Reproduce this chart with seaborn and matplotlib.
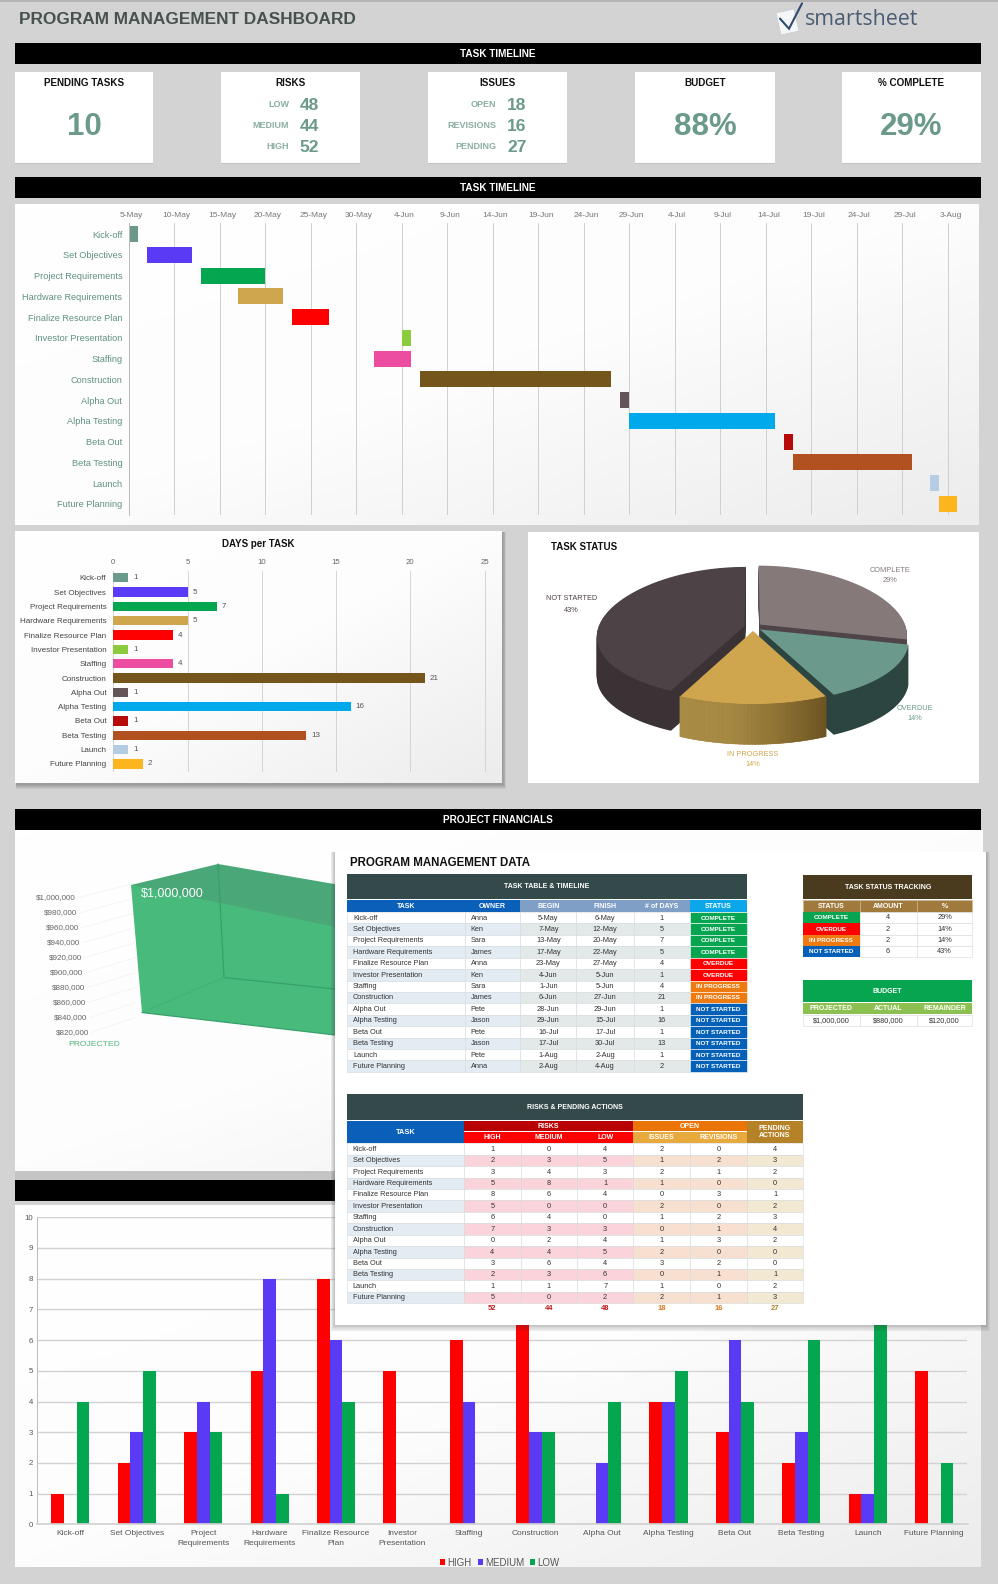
import numpy as np
import pandas as pd
import seaborn as sns
import matplotlib
matplotlib.use("Agg")
import matplotlib.pyplot as plt
import matplotlib.dates as mdates
from matplotlib.colors import LinearSegmentedColormap, to_hex
from matplotlib.patches import Rectangle, Polygon
from matplotlib.transforms import ScaledTranslation

# ---------- data ----------
tasks = ["Kick-off", "Set Objectives", "Project Requirements", "Hardware Requirements",
         "Finalize Resource Plan", "Investor Presentation", "Staffing", "Construction",
         "Alpha Out", "Alpha Testing", "Beta Out", "Beta Testing", "Launch", "Future Planning"]
tasks_wrapped = ["Kick-off", "Set Objectives", "Project\nRequirements", "Hardware\nRequirements",
                 "Finalize Resource\nPlan", "Investor\nPresentation", "Staffing", "Construction",
                 "Alpha Out", "Alpha Testing", "Beta Out", "Beta Testing", "Launch", "Future Planning"]
owners = ["Anna", "Ken", "Sara", "James", "Anna", "Ken", "Sara", "James", "Pete", "Jason", "Pete", "Jason", "Pete", "Anna"]
begin = ["5-May", "7-May", "13-May", "17-May", "23-May", "4-Jun", "1-Jun", "6-Jun", "28-Jun", "29-Jun", "16-Jul", "17-Jul", "1-Aug", "2-Aug"]
finish = ["6-May", "12-May", "20-May", "22-May", "27-May", "5-Jun", "5-Jun", "27-Jun", "29-Jun", "15-Jul", "17-Jul", "30-Jul", "2-Aug", "4-Aug"]
days = [1, 5, 7, 5, 4, 1, 4, 21, 1, 16, 1, 13, 1, 2]
status = ["COMPLETE"] * 4 + ["OVERDUE"] * 2 + ["IN PROGRESS"] * 2 + ["NOT STARTED"] * 6
task_colors = ["#6b9a8c", "#5a3af5", "#05a650", "#cfa64d", "#fe0000", "#8bcb3c", "#ec4da0",
               "#74561c", "#635558", "#00a8ec", "#b80a0a", "#b0511f", "#b5cde3", "#fcb51c"]
risk_high = [1, 2, 3, 5, 8, 5, 6, 7, 0, 4, 3, 2, 1, 5]
risk_medium = [0, 3, 4, 8, 6, 0, 4, 3, 2, 4, 6, 3, 1, 0]
risk_low = [4, 5, 3, 1, 4, 0, 0, 3, 4, 5, 4, 6, 7, 2]
open_issues = [2, 1, 2, 1, 0, 2, 1, 0, 1, 2, 3, 0, 1, 2]
open_revisions = [0, 2, 1, 0, 3, 0, 2, 1, 3, 0, 2, 1, 0, 1]
pending_actions = [4, 3, 2, 0, 1, 2, 3, 4, 2, 0, 0, 1, 2, 3]
pending_tasks = 10
status_names = ["COMPLETE", "OVERDUE", "IN PROGRESS", "NOT STARTED"]
status_amounts = [4, 2, 2, 6]
status_pcts = ["29%", "14%", "14%", "43%"]
budget_projected = 1000000
budget_actual = 880000
budget_remainder = 120000
fin_ticks = [1000000, 980000, 960000, 940000, 920000, 900000, 880000, 860000, 840000, 820000]
gantt_ticks = ["5-May", "10-May", "15-May", "20-May", "25-May", "30-May", "4-Jun", "9-Jun", "14-Jun", "19-Jun",
               "24-Jun", "29-Jun", "4-Jul", "9-Jul", "14-Jul", "19-Jul", "24-Jul", "29-Jul", "3-Aug"]

# ---------- set-up ----------
W, H = 998, 1584
BG = "#d3d3d3"
TEAL = "#6b9a8c"
sns.set_theme(style="white")
plt.rcParams["font.family"] = ["Liberation Sans", "DejaVu Sans"]
fig = plt.figure(figsize=(W / 100, H / 100), dpi=100, facecolor=BG)


def full_axes(z):
    a = fig.add_axes([0, 0, 1, 1], zorder=z)
    a.set_xlim(0, W)
    a.set_ylim(H, 0)
    a.axis("off")
    a.patch.set_alpha(0)
    a.autoscale(False)
    return a


def px_axes(x0, y0, x1, y1, z=2):
    a = fig.add_axes([x0 / W, 1 - y1 / H, (x1 - x0) / W, (y1 - y0) / H], zorder=z)
    a.patch.set_alpha(0)
    return a


bg = full_axes(0)
ov = full_axes(10)
grad = LinearSegmentedColormap.from_list("p", ["#ffffff", "#fdfdfd", "#ececec"])


def panel(a, x0, y0, x1, y1, shadow=0, gradient=True, z=1):
    for i in range(shadow, 0, -1):
        a.add_patch(Rectangle((x0 + 1, y0 + 1), x1 - x0 + i * 0.7, y1 - y0 + i * 0.9,
                              fc="#444444", alpha=0.09, lw=0, zorder=z))
    if gradient:
        g = np.add.outer(np.linspace(0, 1, 60), np.linspace(0, 1, 60)) / 2
        a.imshow(g, extent=(x0, x1, y1, y0), cmap=grad, vmin=0, vmax=1, aspect="auto", zorder=z + 0.1)
    else:
        a.add_patch(Rectangle((x0, y0), x1 - x0, y1 - y0, fc="white", lw=0, zorder=z + 0.1))


def bar(y0, y1, label):
    bg.add_patch(Rectangle((15, y0), 966, y1 - y0, fc="black", lw=0, zorder=3))
    if label:
        bg.text(498, (y0 + y1) / 2 + 0.5, label, color="white", fontsize=7.2, fontweight="bold",
                ha="center", va="center", zorder=4)


def cell(a, x0, y0, x1, y1, fc, text="", color="#333333", size=5.3, weight="normal", ha="center", pad=6, ec=None):
    a.add_patch(Rectangle((x0, y0), x1 - x0, y1 - y0, fc=fc, ec=ec or "none", lw=0.4 if ec else 0, zorder=3))
    if text != "":
        tx = (x0 + x1) / 2 if ha == "center" else x0 + pad
        a.text(tx, (y0 + y1) / 2 + 0.3, str(text), color=color, fontsize=size, fontweight=weight,
               ha=ha, va="center", zorder=4, linespacing=1.1)


def shift_labels(labels, dx_px, dy_px=0):
    off = ScaledTranslation(dx_px / 100, dy_px / 100, fig.dpi_scale_trans)
    for l in labels:
        l.set_transform(l.get_transform() + off)


# ---------- header ----------
bg.add_patch(Rectangle((0, 0), W, 1.5, fc="#b5b5b5", lw=0))
bg.text(19, 19, "PROGRAM MANAGEMENT DASHBOARD", fontsize=12.4, fontweight="bold", color="#46524f", va="center")
bg.add_patch(Polygon([[776, 13], [794, 9], [799, 31], [781, 35]], fc="#f4f6f8", ec="#c8ccd0", lw=0.5, zorder=2))
bg.plot([780, 789, 802], [18.6, 28.7, 3.4], color="#2f4a70", lw=1.5, zorder=3, solid_joinstyle="miter")
bg.text(805, 19.5, "smartsheet", family="Open Sans", fontsize=15.4, color="#4a5c74", va="center")

bar(43, 64, "TASK TIMELINE")
bar(177, 198, "TASK TIMELINE")

# ---------- KPI cards ----------
cards = [(15, 153), (221.5, 360), (428, 567), (635, 775), (842, 981)]
card_titles = ["PENDING TASKS", "RISKS", "ISSUES", "BUDGET", "% COMPLETE"]
for (x0, x1), t in zip(cards, card_titles):
    bg.add_patch(Rectangle((x0, 73), x1 - x0, 91, fc="#c2c2c2", lw=0))
    bg.add_patch(Rectangle((x0, 72), x1 - x0, 91, fc="white", lw=0))
    bg.text((x0 + x1) / 2, 82.5, t, fontsize=7.1, fontweight="bold", color="#111111", ha="center", va="center")
big_vals = {0: str(pending_tasks), 3: f"{round(budget_actual / budget_projected * 100)}%", 4: status_pcts[0]}
for i, s in big_vals.items():
    bg.text(sum(cards[i]) / 2, 127, s, fontsize=22.5, fontweight="bold", color=TEAL, ha="center", va="center")
risk_rows = [("LOW", sum(risk_low)), ("MEDIUM", sum(risk_medium)), ("HIGH", sum(risk_high))]
issue_rows = [("OPEN", sum(open_issues)), ("REVISIONS", sum(open_revisions)), ("PENDING", sum(pending_actions))]
for rows, xl, xn in [(risk_rows, 289, 299.5), (issue_rows, 496, 507)]:
    for (lab, v), y in zip(rows, [104.5, 125.5, 146.5]):
        bg.text(xl, y, lab, fontsize=6.5, fontweight="bold", color="#8aaea4", ha="right", va="center")
        bg.text(xn, y + 0.8, str(v), fontsize=12.5, fontweight="bold", color=TEAL, ha="left", va="center")

# ---------- Gantt ----------
panel(bg, 15, 204, 979, 525)
start_dates = pd.to_datetime([b + "-2023" for b in begin], format="%d-%b-%Y")
tick_dates = pd.to_datetime([t + "-2023" for t in gantt_ticks], format="%d-%b-%Y")
x0num = mdates.date2num(start_dates[0])
PX_DAY = 9.104
gx = px_axes(128.6, 223, 965, 515)
sns.barplot(x=days, y=tasks, hue=tasks, palette=task_colors, width=0.77, legend=False, ax=gx, saturation=1, linewidth=0)
for p, s in zip(gx.patches, start_dates):
    p.set_x(mdates.date2num(s))
gx.set_xlim(x0num, x0num + (965 - 128.6) / PX_DAY)
gx.set_ylim(13.53, -0.53)
gx.set_xticks(mdates.date2num(tick_dates))
gx.set_xticklabels(gantt_ticks, fontsize=6, color="#777777")
gx.xaxis.tick_top()
gx.tick_params(axis="x", length=0, pad=3)
gx.tick_params(axis="y", length=0, pad=4.5, labelsize=6.6, labelcolor="#5f9183")
shift_labels(gx.get_xticklabels(), 2.5)
gx.grid(axis="x", color="#cfcfcf", lw=0.7)
gx.set_axisbelow(True)
gx.set_xlabel("")
gx.set_ylabel("")
sns.despine(ax=gx, top=True, right=True, bottom=True, left=False)
gx.spines["left"].set_color("#bbbbbb")
gx.spines["left"].set_linewidth(0.7)

# ---------- Days per task ----------
panel(bg, 15, 531, 501.6, 783, shadow=5)
bg.text(258.5, 544, "DAYS per TASK", fontsize=7, fontweight="bold", color="#111111", ha="center", va="center", zorder=3)
dx = px_axes(113.3, 571, 490, 771.7)
sns.barplot(x=days, y=tasks, hue=tasks, palette=task_colors, width=0.66, legend=False, ax=dx, saturation=1, linewidth=0)
dx.set_xlim(0, (490 - 113.3) / 14.85)
dx.set_ylim(13.54, -0.47)
dx.set_xticks([0, 5, 10, 15, 20, 25])
dx.xaxis.tick_top()
dx.tick_params(axis="x", length=0, pad=3.5, labelsize=5.6, labelcolor="#666666")
dx.tick_params(axis="y", length=0, pad=5, labelsize=5.8, labelcolor="#444444")
dx.grid(axis="x", color="#d4d4d4", lw=0.7)
dx.set_axisbelow(True)
dx.set_xlabel("")
dx.set_ylabel("")
sns.despine(ax=dx, top=True, right=True, bottom=True, left=True)
for c in dx.containers:
    dx.bar_label(c, padding=3.5, fontsize=5.8, color="#555555")

# ---------- Pie (angles from pie(), then tilted in perspective) ----------
panel(bg, 528, 532, 979, 783, gradient=False)
bg.text(551, 547, "TASK STATUS", fontsize=7, fontweight="bold", color="#111111", va="center", zorder=3)
CX, CY, RX, RY = 753, 627, 146, 66
pie_face = ["#85797a", "#6b9a8c", "#cfa64d", "#4d4245"]
pie_side = ["#4f4548", "#2d4540", "#8e7233", "#3b3236"]
EXPLODE = 0.06
pa = px_axes(575, 550, 930, 760, z=2)
wp = {"linewidth": 0, "edgecolor": "none"}


def tilt(v, depth=0.0):
    x, y = v[:, 0], v[:, 1]
    return np.column_stack([x * (1 - 0.16 * y), y * (1 - 0.10 * y) - depth])


def wedge_outline(w):
    t = np.radians(np.linspace(w.theta1, w.theta2, 90))
    cx, cy = w.center
    arc = np.column_stack([cx + w.r * np.cos(t), cy + w.r * np.sin(t)])
    return np.vstack([[[cx, cy]], arc])


wedges, _ = pa.pie(status_amounts, colors=pie_face, startangle=90, counterclock=False,
                   explode=[EXPLODE] * 4, radius=1, frame=False, wedgeprops=wp)
outlines = [wedge_outline(w) for w in wedges]
geometry = [(w.center, w.theta1, w.theta2, w.r) for w in wedges]
for w in wedges:
    w.remove()

DEPTH = 40 / RY
for d in np.linspace(DEPTH, 0.01, 40):
    for o, col in zip(outlines, pie_side):
        pa.add_patch(Polygon(tilt(o, d), closed=True, fc=col, lw=0, ec=col))
for o, col in zip(outlines, pie_face):
    pa.add_patch(Polygon(tilt(o), closed=True, fc=col, lw=0))

# shaded rim of the gold slice, taken from the slice's own angles
(gc, gt1, gt2, gr) = geometry[2]
ang = np.radians(np.linspace(gt1, gt2, 40))
rim_cmap = LinearSegmentedColormap.from_list("rim", ["#6d5522", "#8e7233", "#a68a43", "#a88c45"])
# angles run along the arc; the gradient runs in the direction of travel
order = ang if np.cos(ang[0]) > np.cos(ang[-1]) else ang[::-1]
for i in range(len(order) - 1):
    a0, a1 = order[i], order[i + 1]
    arc = np.array([[gc[0] + gr * np.cos(a0), gc[1] + gr * np.sin(a0)],
                    [gc[0] + gr * np.cos(a1), gc[1] + gr * np.sin(a1)]])
    t = i / (len(order) - 2)
    col = to_hex(rim_cmap(t))
    pa.add_patch(Polygon(np.vstack([tilt(arc), tilt(arc, DEPTH)[::-1]]), closed=True, fc=col, ec=col, lw=0.4))

pa.set_aspect("auto")
pa.set_xlim((575 - CX) / RX, (930 - CX) / RX)
pa.set_ylim((CY - 760) / RY, (CY - 550) / RY)
pa.axis("off")
for (name, pct, col, x, y) in [("COMPLETE", status_pcts[0], "#85797a", 890, 570),
                               ("NOT STARTED", status_pcts[3], "#4d4245", 571.6, 599),
                               ("OVERDUE", status_pcts[1], "#6b9a8c", 914.7, 708),
                               ("IN PROGRESS", status_pcts[2], "#cfa64d", 753, 754)]:
    bg.text(x, y, name, fontsize=5.3, color=col, ha="center", va="center", zorder=3)
    bg.text(x, y + 11, pct, fontsize=5.3, color=col, ha="center", va="center", zorder=3)

# ---------- Financials ----------
bar(809, 830, "PROJECT FINANCIALS")
panel(bg, 15, 830, 983, 1171)
bg.add_patch(Rectangle((15, 1171), 968, 9, fc="#c4c4c4", lw=0, zorder=2))


def fin_y(v):
    return 898 + (1000000 - v) / 20000 * 14.95


def fin_x(v):
    return 89 - (v - 820000) / 180000 * 13


for v in fin_ticks:
    bg.text(fin_x(v), fin_y(v), f"${v:,.0f}", fontsize=5.8, color="#666666", ha="right", va="center", zorder=3)
    bg.plot([fin_x(v) + 2, 135], [fin_y(v), fin_y(v) - 15], color="#f5f5f5", lw=0.7, zorder=2)
top = fin_y(budget_projected) - 13
base = fin_y(fin_ticks[-1])
bg.add_patch(Polygon([[131, top], [142, base - 20], [340, base + 3], [340, top]], fc="#48bb7c", lw=0, zorder=3))
bg.add_patch(Polygon([[131, top], [218, top - 21], [340, top], [340, top + 43], [220, top + 18]], fc="#4aa878", lw=0, zorder=3.1))
bg.plot([218, 224, 340], [top - 21, base - 55, base - 43], color="#37a068", lw=0.9, zorder=3.2)
bg.plot([142, 224], [base - 20, base - 55], color="#43b073", lw=0.7, zorder=3.2)
bg.plot([142, 340], [base - 20, base + 3], color="#37a068", lw=0.9, zorder=3.2)
bg.text(140.5, 893, f"${budget_projected:,.0f}", color="white", fontsize=9, va="center", zorder=4)
bg.text(93.7, 1044.7, "PROJECTED", color="#4fb57c", fontsize=6.1, ha="center", va="center", zorder=4)

# ---------- Risks bar chart ----------
bar(1180, 1201, "")
panel(bg, 15, 1205, 981, 1567)
long = pd.DataFrame({"task": tasks * 3,
                     "level": ["HIGH"] * 14 + ["MEDIUM"] * 14 + ["LOW"] * 14,
                     "value": risk_high + risk_medium + risk_low})
rx = px_axes(37, 1217.3, 967.5, 1524.3)
sns.barplot(data=long, x="task", y="value", hue="level", hue_order=["HIGH", "MEDIUM", "LOW"],
            palette=["#fe0000", "#5a3af5", "#05a650"], width=0.575, gap=0, ax=rx, saturation=1, linewidth=0)
rx.set_xlim(-0.5, 13.5)
rx.set_ylim(0, 10)
rx.set_yticks(range(11))
rx.set_xticks(range(14))
rx.set_xticklabels(tasks_wrapped, fontsize=6, color="#555555")
for l in rx.get_xticklabels():
    l.set_linespacing(1.6)
rx.tick_params(axis="x", length=0, pad=4)
rx.tick_params(axis="y", length=0, pad=3, labelsize=5.6, labelcolor="#555555")
rx.grid(axis="y", color="#d2d2d2", lw=1)
rx.set_axisbelow(True)
rx.set_xlabel("")
rx.set_ylabel("")
sns.despine(ax=rx, top=True, right=True)
rx.spines["left"].set_color("#bbbbbb")
rx.spines["bottom"].set_color("#d2d2d2")
rx.spines["left"].set_linewidth(0.7)
sns.move_legend(rx, "center", bbox_to_anchor=((500 - 37) / 930.5, -38.4 / 307), ncol=3, frameon=False, title=None,
                fontsize=7, handlelength=0.5, handleheight=0.5, handletextpad=0.25, columnspacing=0.6,
                labelcolor="#555555")

# ---------- Overlay sheet ----------
for i in range(8, 0, -1):
    ov.add_patch(Rectangle((335 - i * 0.5, 852), 651 + i, 473 + i * 0.8, fc="#444444", alpha=0.045, lw=0, zorder=1))
ov.add_patch(Rectangle((335, 852), 651, 473, fc="white", lw=0, zorder=2))
ov.text(349.6, 863, "PROGRAM MANAGEMENT DATA", fontsize=8.3, fontweight="bold", color="#111111", va="center", zorder=4)

DARK = "#34494a"
BLUE = "#0a5fb8"
EDGE = "#d5dadc"
status_fill = {"COMPLETE": "#08a550", "OVERDUE": "#fe0000", "IN PROGRESS": "#ee7a12", "NOT STARTED": "#0561b8"}

# task table
cols = [347, 464.6, 520.5, 576.3, 633.8, 690, 746.7]
cell(ov, 347, 874, 746.7, 899.3, DARK, "TASK TABLE & TIMELINE", "white", 5, "bold")
heads = ["TASK", "OWNER", "BEGIN", "FINISH", "# of DAYS", "STATUS"]
head_fc = [BLUE, BLUE, "#7f9fc6", "#7f9fc6", "#7f9fc6", "#0aa7ea"]
for j, h in enumerate(heads):
    cell(ov, cols[j], 900, cols[j + 1], 911.6, head_fc[j], h, "white", 5, "bold")
RH = 11.42
for i in range(14):
    y0 = 912 + i * RH
    y1 = y0 + RH
    a1 = "#e3ecf3" if i % 2 else "white"
    a2 = "#e2e9e8" if i % 2 else "white"
    cell(ov, cols[0], y0, cols[1], y1, a1, tasks[i], ha="left", ec=EDGE)
    cell(ov, cols[1], y0, cols[2], y1, a1, owners[i], ha="left", ec=EDGE)
    cell(ov, cols[2], y0, cols[3], y1, a2, begin[i], ec=EDGE)
    cell(ov, cols[3], y0, cols[4], y1, a2, finish[i], ec=EDGE)
    cell(ov, cols[4], y0, cols[5], y1, a2, days[i], ec=EDGE)
    cell(ov, cols[5], y0, cols[6], y1, status_fill[status[i]], status[i], "white", 4.6, "bold", ec="white")

# status tracking
c2 = [803, 859.6, 916.7, 972.5]
cell(ov, 803, 874.7, 972.5, 899.3, "#4a3a1e", "TASK STATUS TRACKING", "white", 5, "bold")
for j, h in enumerate(["STATUS", "AMOUNT", "%"]):
    cell(ov, c2[j], 900, c2[j + 1], 911.6, "#a07a3c", h, "white", 5, "bold", ec="#c9b48e")
for i, n in enumerate(status_names):
    y0 = 912 + i * 11.33
    y1 = y0 + 11.33
    cell(ov, c2[0], y0, c2[1], y1, status_fill[n], n, "white", 4.6, "bold")
    cell(ov, c2[1], y0, c2[2], y1, "white", status_amounts[i], ec=EDGE)
    cell(ov, c2[2], y0, c2[3], y1, "white", status_pcts[i], ec=EDGE)

# budget
cell(ov, 803, 980, 972.5, 1002.3, "#08a550", "BUDGET", "white", 5, "bold")
for j, (h, v) in enumerate(zip(["PROJECTED", "ACTUAL", "REMAINDER"],
                               [budget_projected, budget_actual, budget_remainder])):
    cell(ov, c2[j], 1003, c2[j + 1], 1014.3, "#8cc152", h, "white", 5, "bold")
    cell(ov, c2[j], 1014.7, c2[j + 1], 1025.6, "white", f"${v:,.0f}", ec=EDGE)

# risks table
c3 = [346.7, 464, 520.7, 577, 633.3, 690, 746.7, 803.3]
cell(ov, 346.7, 1094, 803.3, 1120, DARK, "RISKS & PENDING ACTIONS", "white", 5, "bold")
cell(ov, c3[0], 1120.7, c3[1], 1142.7, BLUE, "TASK", "white", 5.3, "bold")
cell(ov, c3[1], 1120.7, c3[4], 1131.3, "#b80000", "RISKS", "white", 5, "bold")
cell(ov, c3[4], 1120.7, c3[6], 1131.3, "#ea7506", "OPEN", "white", 5, "bold")
cell(ov, c3[6], 1120.7, c3[7], 1142.7, "#b58227", "PENDING\nACTIONS", "white", 5, "bold")
sub = [("HIGH", "#fe0000"), ("MEDIUM", "#fe0000"), ("LOW", "#fe0000"), ("ISSUES", "#e8a93d"), ("REVISIONS", "#e8a93d")]
for j, (h, f) in enumerate(sub):
    cell(ov, c3[j + 1], 1131.7, c3[j + 2], 1142.7, f, h, "white", 5, "bold")
series = [risk_high, risk_medium, risk_low, open_issues, open_revisions, pending_actions]
alts = ["#fbd3da", "#fbd3da", "#fbd3da", "#f7e0cf", "#f7e0cf", "#f3e9d3"]
tot_col = ["#c21a1a", "#c21a1a", "#c21a1a", "#e07a20", "#e07a20", "#b58227"]
for i in range(14):
    y0 = 1143.3 + i * RH
    y1 = y0 + RH
    cell(ov, c3[0], y0, c3[1], y1, "#e3ecf3" if i % 2 else "white", tasks[i], ha="left", ec=EDGE)
    for j, s in enumerate(series):
        cell(ov, c3[j + 1], y0, c3[j + 2], y1, alts[j] if i % 2 else "white", s[i], ec=EDGE)
for j, s in enumerate(series):
    ov.text((c3[j + 1] + c3[j + 2]) / 2, 1309, str(sum(s)), color=tot_col[j], fontsize=5.5, fontweight="bold",
            ha="center", va="center", zorder=4)

fig.savefig("out.png", dpi=100, facecolor=BG)
